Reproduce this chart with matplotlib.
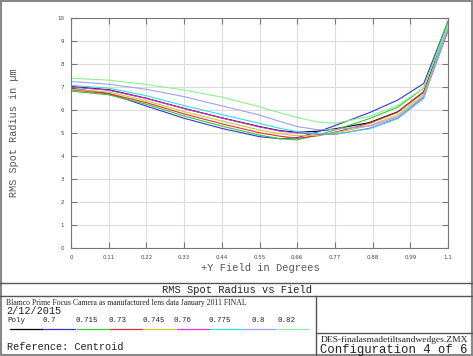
import numpy as np
import matplotlib
matplotlib.use('Agg')
from matplotlib import pyplot as plt
from matplotlib.lines import Line2D
from matplotlib.patches import Rectangle

# field points (degrees)
field = [0, 0.11, 0.22, 0.33, 0.44, 0.55, 0.61, 0.66, 0.72, 0.77, 0.87, 0.953, 1.029, 1.1]

# RMS spot radius (um) per wavelength
poly  = [7.02, 6.88, 6.51, 6.07, 5.66, 5.28, 5.10, 5.03, 5.08, 5.18, 5.45, 5.92, 6.78, 9.78]
w0700 = [6.95, 6.72, 6.17, 5.64, 5.20, 4.84, 4.75, 4.80, 5.05, 5.32, 5.88, 6.43, 7.15, 9.85]
w0715 = [6.82, 6.66, 6.25, 5.74, 5.30, 4.91, 4.75, 4.70, 4.92, 5.13, 5.62, 6.12, 6.95, 9.85]
w0730 = [6.88, 6.71, 6.32, 5.83, 5.40, 5.01, 4.86, 4.77, 4.88, 5.03, 5.42, 5.90, 6.80, 9.45]
w0745 = [6.90, 6.78, 6.40, 5.93, 5.52, 5.13, 4.97, 4.88, 4.90, 5.00, 5.32, 5.78, 6.68, 9.60]
w0760 = [7.00, 6.86, 6.50, 6.06, 5.65, 5.26, 5.08, 5.00, 4.95, 4.94, 5.20, 5.65, 6.55, 9.45]
w0775 = [7.07, 6.95, 6.62, 6.19, 5.80, 5.42, 5.20, 5.06, 4.97, 4.95, 5.18, 5.62, 6.50, 9.75]
w0800 = [7.24, 7.12, 6.90, 6.58, 6.18, 5.78, 5.50, 5.28, 5.14, 5.15, 5.30, 5.70, 6.60, 9.50]
w0820 = [7.38, 7.30, 7.11, 6.87, 6.56, 6.14, 5.88, 5.67, 5.48, 5.42, 5.72, 6.20, 6.95, 9.70]

series = [poly, w0700, w0715, w0730, w0745, w0760, w0775, w0800, w0820]
names = ['Poly', '0.7', '0.715', '0.73', '0.745', '0.76', '0.775', '0.8', '0.82']
colors = ['#000000', '#3434d8', '#30c830', '#e03030', '#c8c830',
          '#e030e0', '#30e0e0', '#a0a0f0', '#90f090']

xticks = [0, 0.11, 0.22, 0.33, 0.44, 0.55, 0.66, 0.77, 0.88, 0.99, 1.1]
xticklabels = ['0', '0.11', '0.22', '0.33', '0.44', '0.55', '0.66', '0.77', '0.88', '0.99', '1.1']

W, H = 473, 356
fig = plt.figure(figsize=(W / 100, H / 100), dpi=100)

def fx(px):
    return px / W

def fy(py):
    return 1 - py / H

mono = 'Liberation Mono'
gray = '#555555'

ax = fig.add_axes([fx(71), fy(248), fx(448) - fx(71), fy(18) - fy(248)])
for y, c in zip(series, colors):
    ax.plot(field, y, color=c, lw=0.8)

ax.set_xlim(0, 1.1)
ax.set_ylim(0, 10)
ax.set_xticks(xticks)
ax.set_xticklabels(xticklabels)
ax.set_yticks(range(11))
ax.grid(True, color='#dcdcdc', lw=0.8)
ax.set_axisbelow(True)
ax.xaxis.set_ticks_position('both')
ax.yaxis.set_ticks_position('both')
ax.tick_params(axis='both', which='major', direction='in', length=4, width=0.8,
               labelsize=4, colors='#777777', labelcolor='#444444', pad=5)
for s in ['top', 'bottom', 'left', 'right']:
    ax.spines[s].set_color('#777777')
    ax.spines[s].set_linewidth(0.8)

fig.text(fx(260), fy(268), '+Y Field in Degrees', family=mono, fontsize=7.5,
         color=gray, ha='center', va='center')
fig.text(fx(14), fy(133), 'RMS Spot Radius in \u00b5m', family=mono, fontsize=7.3,
         color=gray, ha='center', va='center', rotation=90)

# frame and text box
def hline(y, x0, x1, c='#555555', lw=1.0):
    fig.add_artist(Line2D([fx(x0), fx(x1)], [fy(y), fy(y)], color=c, lw=lw,
                          transform=fig.transFigure))

def vline(x, y0, y1, c='#555555', lw=1.0):
    fig.add_artist(Line2D([fx(x), fx(x)], [fy(y0), fy(y1)], color=c, lw=lw,
                          transform=fig.transFigure))

fig.add_artist(Rectangle((0.002, 0.003), 0.995, 0.994, fill=False,
                         ec='#888888', lw=1.5, transform=fig.transFigure))
hline(283, 0, W)
hline(296, 0, W)
vline(316, 296, 355)
hline(333, 316, W)

fig.text(0.5, fy(290), 'RMS Spot Radius vs Field', family=mono, fontsize=7.5,
         color='#222222', ha='center', va='center')
fig.text(fx(6), fy(303), 'Blamco Prime Focus Camera as manufactured lens data January 2011 FINAL',
         family='Liberation Serif', fontsize=5.6, color='#222222', ha='left', va='center')
fig.text(fx(6), fy(311), '2/12/2015', family=mono, fontsize=7.3,
         color='#222222', ha='left', va='center')

label_x = [7, 42, 75, 108, 142, 173, 208, 251, 277]
seg_x = [10, 43, 77, 110, 143, 177, 210, 243, 277]
for n, c, lx, sx in zip(names, colors, label_x, seg_x):
    fig.text(fx(lx), fy(320), n, family=mono, fontsize=5.4,
             color='#222222', ha='left', va='center')
    hline(329, sx, sx + 32, c=c, lw=0.9)

fig.text(fx(7), fy(347), 'Reference: Centroid', family=mono, fontsize=7.4,
         color='#222222', ha='left', va='center')
fig.text(fx(321), fy(340), 'DES-finalasmadetiltsandwedges.ZMX', family='Liberation Serif',
         fontsize=6.8, color='#222222', ha='left', va='center')
fig.text(fx(320), fy(350), 'Configuration 4 of 6', family=mono, fontsize=8.8,
         color='#222222', ha='left', va='center')

fig.savefig('out.png', dpi=100)
